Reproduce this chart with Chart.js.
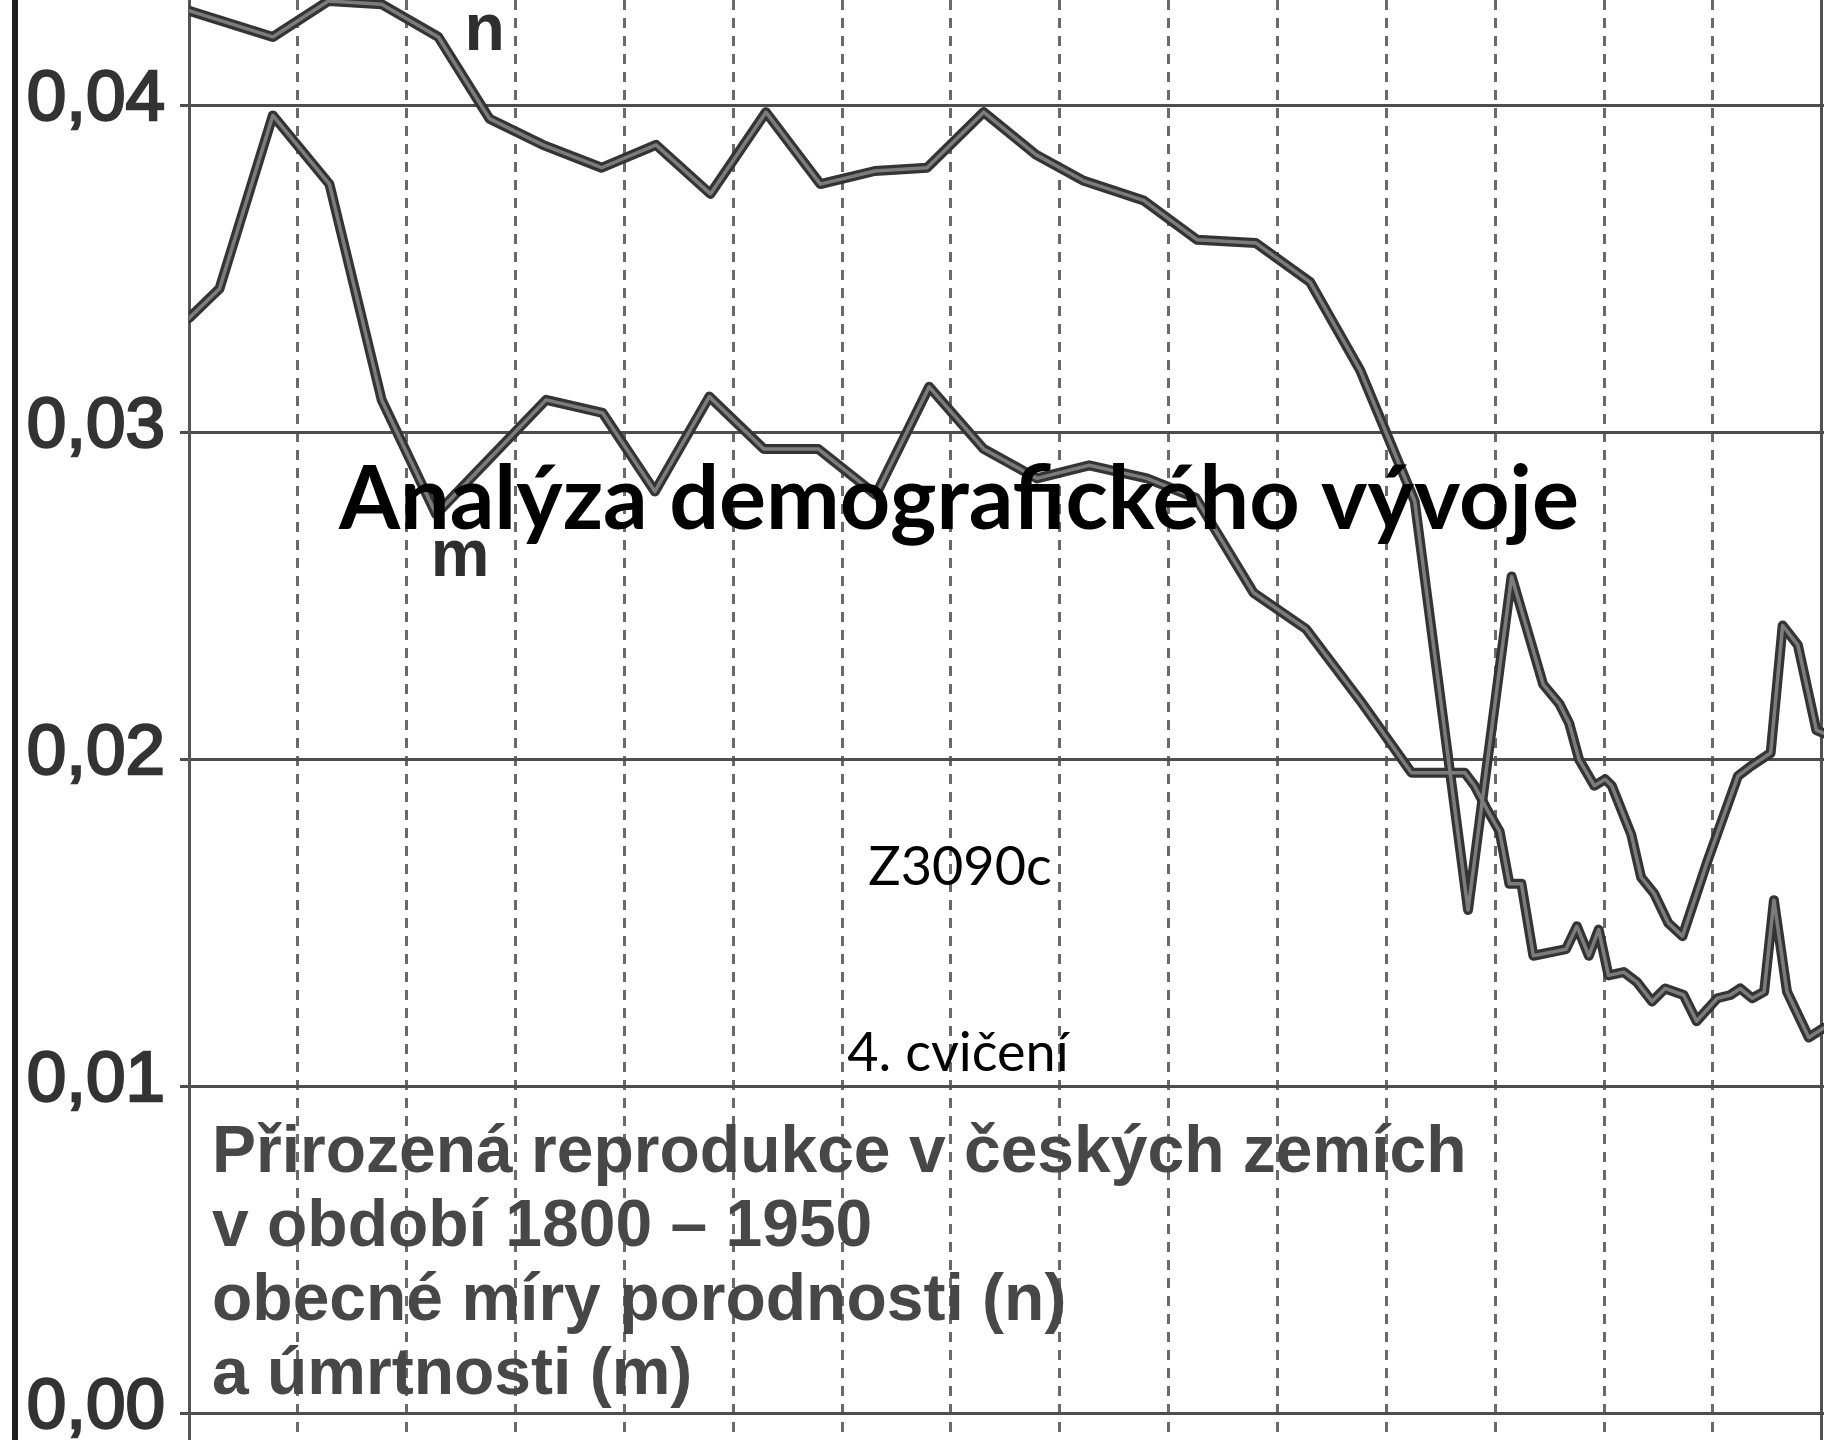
<!DOCTYPE html>
<html lang="cs">
<head>
<meta charset="utf-8">
<title>Přirozená reprodukce v českých zemích 1800 – 1950</title>
<script src="https://cdn.jsdelivr.net/npm/chart.js@4.4.1/dist/chart.umd.min.js"></script>
<style>
  html, body { margin: 0; padding: 0; background: #fff; }
  #wrap { width: 1824px; height: 1440px; }
</style>
</head>
<body>
<div id="wrap"><canvas id="chart" width="1824" height="1440"></canvas></div>
<script>
// n = obecná míra porodnosti, m = obecná míra úmrtnosti
// 5-year averages until ~1912, yearly values after
const birthYears = [1800, 1807.7, 1812.8, 1817.7, 1822.9, 1827.6, 1832.5, 1837.9, 1842.9, 1847.9,
  1853.0, 1858.0, 1863.0, 1867.8, 1873.0, 1877.8, 1882.2, 1887.7, 1892.6, 1898.0,
  1903.0, 1907.6, 1912.6, 1917.5, 1921.5, 1924.4, 1925.9, 1926.8, 1927.7, 1929.1,
  1930.1, 1930.7, 1932.5, 1933.4, 1934.6, 1935.9, 1937.2, 1939.5, 1942.3, 1943.5,
  1945.3, 1946.4, 1947.8, 1949.5, 1950.2];
const birthRates = [0.0429, 0.0421, 0.0432, 0.0431, 0.0421, 0.0396, 0.0388, 0.0381, 0.0388, 0.0373,
  0.0398, 0.0376, 0.0380, 0.0381, 0.0398, 0.0385, 0.0377, 0.0371, 0.0359, 0.0358,
  0.0346, 0.0319, 0.0279, 0.0154, 0.0256, 0.0223, 0.0217, 0.0211, 0.0200, 0.0192,
  0.0194, 0.0192, 0.0177, 0.0164, 0.0159, 0.0150, 0.0146, 0.0169, 0.0195, 0.0198,
  0.0202, 0.0241, 0.0235, 0.0209, 0.0208];

const deathYears = [1800, 1802.8, 1807.7, 1812.9, 1817.7, 1822.7, 1827.6, 1832.8, 1838.0, 1842.8,
  1847.8, 1852.8, 1857.8, 1863.1, 1868.0, 1873.0, 1877.9, 1882.7, 1888.0, 1892.5,
  1897.8, 1902.6, 1907.6, 1912.3, 1917.2, 1918.1, 1919.2, 1920.4, 1921.3, 1922.4,
  1923.5, 1926.5, 1927.5, 1928.6, 1929.5, 1930.4, 1931.8, 1933.0, 1934.4, 1935.6,
  1937.3, 1938.5, 1940.4, 1941.6, 1942.5, 1943.6, 1944.7, 1945.6, 1946.8, 1948.8,
  1950.2];
const deathRates = [0.0335, 0.0344, 0.0397, 0.0376, 0.0310, 0.0275, 0.0292, 0.0310, 0.0306, 0.0282,
  0.0311, 0.0295, 0.0295, 0.0281, 0.0314, 0.0295, 0.0286, 0.0290, 0.0286, 0.0280,
  0.0251, 0.0240, 0.0218, 0.0196, 0.0196, 0.0192, 0.0185, 0.0178, 0.0162, 0.0162,
  0.0140, 0.0142, 0.0149, 0.0140, 0.0148, 0.0134, 0.0135, 0.0132, 0.0126, 0.0130,
  0.0128, 0.0120, 0.0127, 0.0128, 0.0130, 0.0127, 0.0129, 0.0157, 0.0129, 0.0115,
  0.0118];

const captionLines = [
  'Přirozená reprodukce v českých zemích',
  'v období 1800 – 1950',
  'obecné míry porodnosti (n)',
  'a úmrtnosti (m)'
];
const slideTitle = 'Analýza demografického vývoje';
const courseCode = 'Z3090c';
const lessonName = '4. cvičení';

const toPoints = (xs, ys) => xs.map((x, i) => ({ x: x, y: ys[i] }));

// scanned look: dark outline with lighter core
function seriesPair(label, points) {
  return [
    { label: label, data: points, borderColor: '#343434', borderWidth: 10, order: 2 },
    { label: label + ' core', data: points, borderColor: '#7c7c7c', borderWidth: 3.5, order: 1 }
  ];
}

const overlayText = {
  id: 'overlayText',
  beforeDatasetsDraw(chart) {
    const { ctx, scales } = chart;
    ctx.save();
    // caption of the scanned chart
    ctx.fillStyle = '#474747';
    ctx.textBaseline = 'alphabetic';
    ctx.font = 'bold 66px "Liberation Sans", Arial, sans-serif';
    captionLines.forEach((line, i) => ctx.fillText(line, 212, 1172 + i * 74));
    // series letters
    ctx.fillStyle = '#2e2e2e';
    ctx.fillText('n', scales.x.getPixelForValue(1825.3), scales.y.getPixelForValue(0.04170));
    ctx.fillText('m', scales.x.getPixelForValue(1822.2), scales.y.getPixelForValue(0.02560));
    ctx.restore();
  },
  afterDraw(chart) {
    const { ctx } = chart;
    ctx.save();
    // left edge of the scan
    ctx.strokeStyle = '#1e1e1e';
    ctx.lineWidth = 6;
    ctx.beginPath();
    ctx.moveTo(15, 0);
    ctx.lineTo(15, 1440);
    ctx.stroke();
    // slide texts
    ctx.fillStyle = '#000';
    ctx.textAlign = 'center';
    ctx.font = 'bold 88px Lato, "Open Sans", sans-serif';
    ctx.fillText(slideTitle, 959, 529);
    ctx.font = '54px Lato, "Open Sans", sans-serif';
    ctx.fillText(courseCode, 960, 885);
    ctx.fillText(lessonName, 958, 1071);
    ctx.restore();
  }
};

const edgeYear = v => v === 1800 || v === 1950;

new Chart(document.getElementById('chart'), {
  type: 'line',
  data: {
    datasets: [
      ...seriesPair('n', toPoints(birthYears, birthRates)),
      ...seriesPair('m', toPoints(deathYears, deathRates))
    ]
  },
  options: {
    responsive: false,
    devicePixelRatio: 1,
    animation: false,
    layout: { padding: 0 },
    elements: {
      point: { radius: 0 },
      line: { tension: 0, fill: false, borderJoinStyle: 'round', borderCapStyle: 'round' }
    },
    plugins: {
      legend: { display: false },
      tooltip: { enabled: false },
      title: { display: false }
    },
    scales: {
      x: {
        type: 'linear',
        min: 1800,
        max: 1950.2,
        ticks: { display: false, stepSize: 10, includeBounds: false },
        grid: {
          drawTicks: false,
          color: ctx => (ctx.tick && edgeYear(ctx.tick.value)) ? '#505050' : '#6a6a6a',
          lineWidth: 3
        },
        border: {
          display: false,
          dash: ctx => (ctx.tick && !edgeYear(ctx.tick.value)) ? [10, 8] : []
        },
        afterFit: scale => { scale.height = 0; }
      },
      y: {
        min: -0.00081,
        max: 0.04323,
        ticks: {
          stepSize: 0.01,
          includeBounds: false,
          padding: 15,
          labelOffset: -5,
          color: '#333',
          textStrokeColor: '#333',
          textStrokeWidth: 2.5,
          font: { family: '"Liberation Sans", Arial, sans-serif', size: 71 },
          callback: v => v.toFixed(2).replace('.', ',')
        },
        grid: { color: '#4d4d4d', lineWidth: 3, tickLength: 9, tickColor: '#4d4d4d' },
        border: { display: true, color: '#555', width: 3 },
        afterFit: scale => {
          scale.width = 189;
          // let the plot run to the top and bottom edge like the cropped scan
          scale.paddingTop = 0;
          scale.paddingBottom = 0;
        }
      }
    }
  },
  plugins: [overlayText]
});
</script>
</body>
</html>
